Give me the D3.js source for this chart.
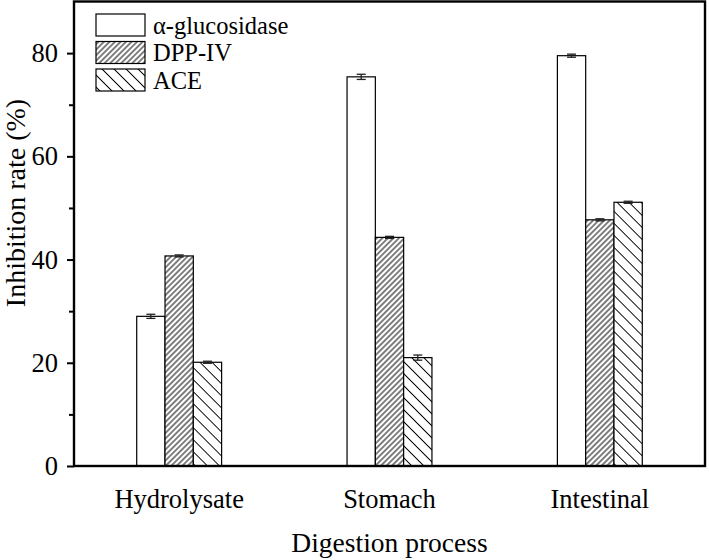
<!DOCTYPE html>
<html>
<head>
<meta charset="utf-8">
<script src="https://cdn.jsdelivr.net/npm/d3@7"></script>
<style>
  body { margin: 0; background: #fff; }
  svg { display: block; font-family: "Liberation Serif", "Times New Roman", serif; }
</style>
</head>
<body>
<svg width="709" height="560"></svg>
<script>
const stages = ["Hydrolysate", "Stomach", "Intestinal"];
const series = ["α-glucosidase", "DPP-IV", "ACE"];
const glucosidase = [29.0, 75.4, 79.5];
const glucosidaseErr = [0.4, 0.5, 0.3];
const dpp = [40.7, 44.3, 47.7];
const dppErr = [0.2, 0.2, 0.2];
const ace = [20.1, 21.0, 51.1];
const aceErr = [0.2, 0.5, 0.2];
const yTicks = [0, 20, 40, 60, 80];
const yMinor = [10, 30, 50, 70];

const width = 709;
const height = 560;
const margin = { top: 1.5, right: 4, bottom: 94, left: 74 };
const fontSize = 26.5;

const svg = d3.select("svg");

// hatch patterns
const defs = svg.append("defs");
function hatch(id, spacing, angle) {
  const p = defs
    .append("pattern")
    .attr("id", id)
    .attr("patternUnits", "userSpaceOnUse")
    .attr("width", spacing)
    .attr("height", spacing)
    .attr("patternTransform", `rotate(${angle})`);
  p.append("rect").attr("width", spacing).attr("height", spacing).attr("fill", "#fff");
  p.append("line")
    .attr("x1", spacing / 2)
    .attr("x2", spacing / 2)
    .attr("y1", 0)
    .attr("y2", spacing)
    .attr("stroke", "#000")
    .attr("stroke-width", 1);
}
hatch("hatch-dpp", 3.9, 45);
hatch("hatch-ace", 8.5, -45);
const fills = ["#fff", "url(#hatch-dpp)", "url(#hatch-ace)"];

const x = d3
  .scaleBand()
  .domain(stages)
  .range([margin.left, width - margin.right])
  .padding(0);

const barW = 28.3;
const xs = d3
  .scaleBand()
  .domain(series)
  .range([-barW * 1.5, barW * 1.5]);

const y = d3
  .scaleLinear()
  .domain([0, 90])
  .range([height - margin.bottom, margin.top]);

const data = [];
stages.forEach((s, i) => {
  data.push({ stage: s, key: series[0], value: glucosidase[i], err: glucosidaseErr[i], k: 0 });
  data.push({ stage: s, key: series[1], value: dpp[i], err: dppErr[i], k: 1 });
  data.push({ stage: s, key: series[2], value: ace[i], err: aceErr[i], k: 2 });
});

const cx = (d) => x(d.stage) + x.bandwidth() / 2;

// bars
svg
  .append("g")
  .selectAll("rect")
  .data(data)
  .join("rect")
  .attr("x", (d) => cx(d) + xs(d.key))
  .attr("y", (d) => y(d.value))
  .attr("width", xs.bandwidth())
  .attr("height", (d) => y(0) - y(d.value))
  .attr("fill", (d) => fills[d.k])
  .attr("stroke", "#000")
  .attr("stroke-width", 1.2);

// error bars
const eb = svg
  .append("g")
  .attr("stroke", "#222")
  .attr("stroke-width", 1.3)
  .selectAll("g")
  .data(data)
  .join("g")
  .attr("transform", (d) => `translate(${cx(d) + xs(d.key) + xs.bandwidth() / 2},0)`);
eb.append("line")
  .attr("y1", (d) => y(d.value - d.err))
  .attr("y2", (d) => y(d.value + d.err));
eb.append("line")
  .attr("x1", -4.5)
  .attr("x2", 4.5)
  .attr("y1", (d) => y(d.value + d.err))
  .attr("y2", (d) => y(d.value + d.err));
eb.append("line")
  .attr("x1", -4.5)
  .attr("x2", 4.5)
  .attr("y1", (d) => y(d.value - d.err))
  .attr("y2", (d) => y(d.value - d.err));

// frame
svg
  .append("rect")
  .attr("x", margin.left)
  .attr("y", margin.top)
  .attr("width", width - margin.left - margin.right)
  .attr("height", height - margin.top - margin.bottom)
  .attr("fill", "none")
  .attr("stroke", "#000")
  .attr("stroke-width", 2.4);

// y axis
const yAxis = svg
  .append("g")
  .attr("transform", `translate(${margin.left},0)`)
  .call(d3.axisLeft(y).tickValues(yTicks).tickSize(7).tickPadding(9));
yAxis.select(".domain").remove();
yAxis.selectAll(".tick line").attr("stroke-width", 2);
yAxis.selectAll(".tick text").attr("font-size", fontSize).attr("font-family", "Liberation Serif").attr("fill", "#000");

const yAxisMinor = svg
  .append("g")
  .attr("transform", `translate(${margin.left},0)`)
  .call(d3.axisLeft(y).tickValues(yMinor).tickSize(5).tickFormat(""));
yAxisMinor.select(".domain").remove();
yAxisMinor.selectAll(".tick line").attr("stroke-width", 2);

// x labels
const xAxis = svg
  .append("g")
  .attr("transform", `translate(0,${height - margin.bottom})`)
  .call(d3.axisBottom(x).tickSize(0).tickPadding(23));
xAxis.select(".domain").remove();
xAxis.selectAll(".tick text").attr("font-size", fontSize).attr("font-family", "Liberation Serif").attr("fill", "#000");

// axis titles
svg
  .append("text")
  .attr("x", (margin.left + width - margin.right) / 2)
  .attr("y", 552)
  .attr("text-anchor", "middle")
  .attr("font-size", 27.5)
  .text("Digestion process");

svg
  .append("text")
  .attr("transform", "translate(25,203) rotate(-90)")
  .attr("text-anchor", "middle")
  .attr("font-size", 28)
  .text("Inhibition rate (%)");

// legend
const legend = svg
  .append("g")
  .selectAll("g")
  .data(series)
  .join("g")
  .attr("transform", (d, i) => `translate(96,${14 + i * 27.5})`);
legend
  .append("rect")
  .attr("width", 49)
  .attr("height", 22)
  .attr("fill", (d, i) => fills[i])
  .attr("stroke", "#000")
  .attr("stroke-width", 1.2);
legend
  .append("text")
  .attr("x", 57)
  .attr("y", 11)
  .attr("dy", "0.35em")
  .attr("font-size", 24.5)
  .text((d) => d);
</script>
</body>
</html>
